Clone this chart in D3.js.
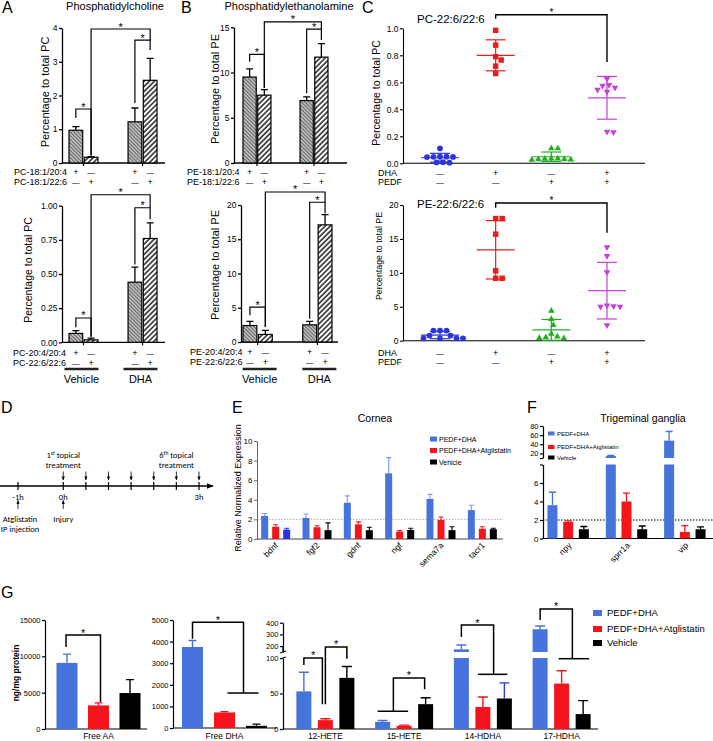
<!DOCTYPE html>
<html><head><meta charset="utf-8">
<script src="https://cdn.jsdelivr.net/npm/d3@7/dist/d3.min.js"></script>
<style>html,body{margin:0;padding:0;background:#fff;}svg{display:block;}</style>
</head><body><div id="chart"></div>
<script>
// ================= DATA =================
const pairGroups = ["Vehicle", "DHA"];
const pairSeries = ["first", "second"];
const rowSigns1 = ["+", "—", "+", "—"];
const rowSigns2 = ["—", "+", "—", "+"];

const pcTopRows = ["PC-18:1/20:4", "PC-18:1/22:6"];
const pcTopMean = [0.97, 0.17, 1.22, 2.45];
const pcTopErr  = [1.08, 0.19, 1.63, 3.10];
const pcTopTicks = [0, 1, 2, 3, 4];

const pcBotRows = ["PC-20:4/20:4", "PC-22:6/22:6"];
const pcBotMean = [0.065, 0.018, 0.44, 0.76];
const pcBotErr  = [0.085, 0.03, 0.55, 0.875];
const pcBotTicks = [0, 0.25, 0.5, 0.75, 1.0];

const peTopRows = ["PE-18:1/20:4", "PE-18:1/22:6"];
const peTopMean = [9.5, 7.5, 6.9, 11.7];
const peTopErr  = [10.4, 8.1, 7.3, 13.2];
const peTopTicks = [0, 5, 10, 15];

const peBotRows = ["PE-20:4/20:4", "PE-22:6/22:6"];
const peBotMean = [2.4, 1.1, 2.5, 17.1];
const peBotErr  = [3.0, 1.7, 3.0, 18.6];
const peBotTicks = [0, 5, 10, 15, 20];

const cGroups = ["Vehicle", "DHA", "PEDF", "PEDF+DHA"];
const cDHASigns  = ["—", "+", "—", "+"];
const cPEDFSigns = ["—", "—", "+", "+"];
const cPCVeh  = [0.11, 0.05, 0.049, 0.048, 0.047, 0.046, 0.008, 0.006, 0.005];
const cPCDHA  = [0.985, 0.875, 0.79, 0.765, 0.72, 0.665];
const cPCPEDF = [0.11, 0.11, 0.035, 0.035, 0.033, 0.032, 0.03, 0.028, 0.025];
const cPCBoth = [0.625, 0.58, 0.575, 0.56, 0.545, 0.53, 0.235, 0.23];
const cPCTicks = [0, 0.2, 0.4, 0.6, 0.8, 1.0];
const cPEVeh  = [1.5, 1.5, 1.5, 0.75, 0.75, 0.35, 0.35, 0.35, 0.35];
const cPEDHA  = [18.0, 18.0, 15.7, 10.3, 9.2, 9.2];
const cPEPEDF = [4.4, 3.2, 2.3, 1.0, 0.6, 0.4, 0.35, 0.5];
const cPEBoth = [13.8, 12.5, 10.1, 5.2, 5.0, 5.0, 5.1, 2.3];
const cPETicks = [0, 5, 10, 15, 20];

const dHours = [-1, 0, 0.5, 1, 1.5, 2, 2.5, 3];
const dTreatHours = [0, 0.5, 1, 1.5, 2, 2.5, 3];
const dLabelHours = [-1, 0, 3];
const dLabelText = ["-1h", "0h", "3h"];

const seriesNames = ["PEDF+DHA", "PEDF+DHA+Atglistatin", "Vehicle"];

const eGenes = ["bdnf", "fgf2", "gdnf", "ngf", "sema7a", "tacr1"];
const eBlue = [2.35, 2.15, 3.7, 6.7, 4.1, 2.95];
const eBlueErr = [2.6, 2.55, 4.4, 8.3, 4.55, 3.45];
const eRed = [1.25, 1.2, 1.5, 0.75, 1.95, 1.05];
const eRedErr = [1.45, 1.35, 1.75, 0.85, 2.25, 1.25];
const eBlack = [0.95, 0.9, 0.9, 0.92, 0.9, 1.0];
const eBlackErr = [1.1, 1.65, 1.2, 1.1, 1.25, 1.1];
const eTicks = [0, 2, 4, 6, 8, 10];

const fGenes = ["npy", "sprr1a", "vip"];
const fBlue = [3.6, 14.5, 48];
const fBlueErr = [5.0, 15.5, 68];
const fRed = [1.8, 4.0, 0.7];
const fRedErr = [1.9, 4.9, 1.4];
const fBlack = [1.0, 1.0, 1.0];
const fBlackErr = [1.3, 1.35, 1.25];
const fLowTicks = [0, 2, 4, 6, 8];
const fHighTicks = [10, 20, 40, 60, 80];

const gAA = [9100, 3250, 4950];
const gAAErr = [10300, 3600, 6800];
const gAATicks = [0, 5000, 10000, 15000];
const gDHA = [3750, 720, 100];
const gDHAErr = [4050, 760, 180];
const gDHATicks = [0, 1000, 2000, 3000, 4000, 5000];
const gLipids = ["12-HETE", "15-HETE", "14-HDHA", "17-HDHA"];
const gBlue = [53, 10, 173, 344];
const gBlueErr = [80, 12, 210, 372];
const gRed = [12.5, 4.5, 31, 64];
const gRedErr = [14.5, 5.5, 45, 82];
const gBlack = [72, 35, 43, 21];
const gBlackErr = [88, 44, 65, 40];
const gLowTicks = [0, 50, 100];
const gHighTicks = [200, 300, 400];

// ================= SETUP =================
const FONT = "'Liberation Sans', Arial, Helvetica, sans-serif";
const DFONT = "Carlito, Lato, 'Open Sans', sans-serif";
const BLUE = "#4673dc", RED = "#f5141c", BLACK = "#000";

const svg = d3.select("#chart").append("svg")
  .attr("width", 713).attr("height", 741).attr("font-family", FONT);
svg.append("rect").attr("width", 713).attr("height", 741).attr("fill", "#fff");
const defs = svg.append("defs");
const pA = defs.append("pattern").attr("id", "hatchA").attr("patternUnits", "userSpaceOnUse")
  .attr("width", 2.6).attr("height", 2.6).attr("patternTransform", "rotate(-45)");
pA.append("rect").attr("width", 2.6).attr("height", 2.6).attr("fill", "#c8c8c8");
pA.append("line").attr("x1", 0.6).attr("x2", 0.6).attr("y1", 0).attr("y2", 2.6).attr("stroke", "#4a4a4a").attr("stroke-width", 0.9);
const pB = defs.append("pattern").attr("id", "hatchB").attr("patternUnits", "userSpaceOnUse")
  .attr("width", 3.6).attr("height", 3.6).attr("patternTransform", "rotate(45)");
pB.append("rect").attr("width", 3.6).attr("height", 3.6).attr("fill", "#fff");
pB.append("line").attr("x1", 1).attr("x2", 1).attr("y1", 0).attr("y2", 3.6).attr("stroke", "#111").attr("stroke-width", 1.4);
defs.append("marker").attr("id", "arr").attr("viewBox", "0 0 10 10").attr("refX", 9).attr("refY", 5)
  .attr("markerWidth", 5).attr("markerHeight", 5).attr("orient", "auto")
  .append("path").attr("d", "M0,1L10,5L0,9z").attr("fill", "#000");

function txt(g, x, y, s, fs, anchor, opts) {
  const t = g.append("text").attr("x", x).attr("y", y).attr("font-size", fs)
    .attr("text-anchor", anchor || "start").attr("fill", "#000").text(s);
  if (opts) for (const k in opts) t.attr(k, opts[k]);
  return t;
}
function vlabel(g, x, y, s, fs, weight) {
  return g.append("text").attr("transform", `translate(${x},${y}) rotate(-90)`)
    .attr("text-anchor", "middle").attr("font-size", fs).attr("font-weight", weight || "normal").text(s);
}
function yAxis(g, x, scale, ticks, fmt, fs, opts) {
  opts = opts || {};
  const a = d3.axisLeft(scale).tickValues(ticks).tickFormat(fmt)
    .tickSize(opts.ts == null ? 3 : opts.ts).tickSizeOuter(0).tickPadding(opts.pad == null ? 1.5 : opts.pad);
  const s = g.append("g").attr("transform", `translate(${x},0)`).call(a);
  s.attr("font-family", FONT).attr("font-size", fs);
  s.selectAll("text").attr("fill", "#000");
  s.selectAll("path,line").attr("stroke", opts.color || "#000").attr("stroke-width", opts.sw || 1.2);
  return s;
}
function hline(g, x1, x2, y, sw, col) {
  return g.append("line").attr("x1", x1).attr("x2", x2).attr("y1", y).attr("y2", y)
    .attr("stroke", col || "#000").attr("stroke-width", sw || 1.2);
}
function star(g, x, y, fs) { return txt(g, x, y, "*", fs || 11, "middle"); }

[["A", 2, 13], ["B", 181, 13], ["C", 362, 13], ["D", 1, 413], ["E", 232, 413], ["F", 527, 413], ["G", 1, 598]]
  .forEach(([s, x, y]) => txt(svg, x, y, s, 16));

// ================= A / B =================
function pairPanel(o) {
  const g = svg.append("g");
  const y = d3.scaleLinear().domain([0, o.max]).range([o.y0, o.y1]);
  const gx = d3.scaleBand().domain(pairGroups).range([o.bx0, o.bx1]).paddingInner(0.51);
  const ix = d3.scaleBand().domain(pairSeries).range([0, gx.bandwidth()]).paddingInner(0.1);
  const bars = o.mean.map((v, i) => ({ v, e: o.err[i], grp: pairGroups[i >> 1], ser: pairSeries[i & 1] }));
  const bx = d => gx(d.grp) + ix(d.ser);
  const cx = i => bx(bars[i]) + ix.bandwidth() / 2;
  yAxis(g, o.ax, y, o.ticks, o.fmt, 8.5, { sw: 1.3 });
  hline(g, o.ax, o.axEnd, y(0), 1.3);
  g.selectAll(null).data(pairGroups).join("line")
    .attr("x1", d => gx(d) + gx.bandwidth() / 2).attr("x2", d => gx(d) + gx.bandwidth() / 2)
    .attr("y1", y(0)).attr("y2", y(0) + 3).attr("stroke", "#000").attr("stroke-width", 1.2);
  g.selectAll(null).data(bars).join("rect")
    .attr("x", bx).attr("width", ix.bandwidth())
    .attr("y", d => y(d.v)).attr("height", d => y(0) - y(d.v))
    .attr("fill", d => d.ser === "first" ? "url(#hatchA)" : "url(#hatchB)")
    .attr("stroke", "#000").attr("stroke-width", 1.2);
  g.selectAll(null).data(bars).join("path")
    .attr("d", d => { const c = bx(d) + ix.bandwidth() / 2; return `M${c},${y(d.v)}V${y(d.e)}M${c - 3.5},${y(d.e)}H${c + 3.5}`; })
    .attr("stroke", "#000").attr("stroke-width", 1.3).attr("fill", "none");
  o.brackets.forEach(([a, b, h, ha, hb]) => {
    g.append("path").attr("d", `M${cx(a)},${y(ha)}V${y(h)}H${cx(b)}V${y(hb)}`)
      .attr("fill", "none").attr("stroke", "#000").attr("stroke-width", 1.2);
    star(g, (cx(a) + cx(b)) / 2, y(h) + 1.5, 11);
  });
  txt(g, o.rowX, o.rowY[0], o.rows[0], 9);
  txt(g, o.rowX, o.rowY[1], o.rows[1], 9);
  rowSigns1.forEach((s, i) => txt(g, cx(i), o.rowY[0], s, s === "+" ? 9 : 7.5, "middle"));
  rowSigns2.forEach((s, i) => txt(g, cx(i), o.rowY[1], s, s === "+" ? 9 : 7.5, "middle"));
  vlabel(g, o.ylx, o.yly, o.ylabel, o.ylfs || 11);
  if (o.title) txt(g, o.title[1], o.title[2], o.title[0], 11, "middle");
  return gx;
}

pairPanel({ ax: 62, axEnd: 165, y0: 163, y1: 28, max: 4, ticks: pcTopTicks, fmt: d3.format("d"),
  bx0: 69, bx1: 157, mean: pcTopMean, err: pcTopErr, rows: pcTopRows, rowX: 14, rowY: [175, 185],
  ylabel: "Percentage to total PC", ylx: 48.5, yly: 92, title: ["Phosphatidylcholine", 115, 9.5],
  brackets: [[0, 1, 1.6, 1.33, 0.22], [1, 3, 3.97, 0.22, 3.64], [2, 3, 3.64, 1.78, 3.35]] });
const gxA = pairPanel({ ax: 62, axEnd: 165, y0: 342.3, y1: 205.7, max: 1, ticks: pcBotTicks, fmt: d3.format(".2f"),
  bx0: 69, bx1: 157, mean: pcBotMean, err: pcBotErr, rows: pcBotRows, rowX: 13, rowY: [356, 365.5],
  ylabel: "Percentage to total PC", ylx: 32, yly: 270, ylfs: 10.5,
  brackets: [[0, 1, 0.178, 0.11, 0.04], [1, 3, 1.08, 0.04, 0.985], [2, 3, 0.985, 0.57, 0.9]] });
pairPanel({ ax: 234, axEnd: 347, y0: 163, y1: 27.3, max: 15, ticks: peTopTicks, fmt: d3.format("d"),
  bx0: 243, bx1: 328, mean: peTopMean, err: peTopErr, rows: peTopRows, rowX: 187, rowY: [175, 185],
  ylabel: "Percentage to total PE", ylx: 219, yly: 89, title: ["Phosphatidylethanolamine", 289, 9.5],
  brackets: [[0, 1, 12.0, 11.2, 8.3], [1, 3, 15.6, 8.3, 14.8], [2, 3, 14.8, 7.7, 13.6]] });
const gxB = pairPanel({ ax: 241, axEnd: 338, y0: 342, y1: 205, max: 20, ticks: peBotTicks, fmt: d3.format("d"),
  bx0: 243, bx1: 332, mean: peBotMean, err: peBotErr, rows: peBotRows, rowX: 190, rowY: [355, 364.5],
  ylabel: "Percentage to total PE", ylx: 219, yly: 265,
  brackets: [[0, 1, 5.1, 3.9, 2.2], [1, 3, 21.9, 2.2, 20.4], [2, 3, 20.4, 3.4, 18.8]] });

[[gxA, -2], [gxB, 2]].forEach(([gx, dx]) => {
  pairGroups.forEach(grp => {
    const c = gx(grp) + gx.bandwidth() / 2 + dx;
    hline(svg, c - 17, c + 17, 369, 2.5, "#222");
    txt(svg, c, 383, grp, 11, "middle");
  });
});

// ================= C =================
function swarm(ys, d) {
  const idx = d3.range(ys.length).sort((a, b) => ys[a] - ys[b]);
  const xs = new Array(ys.length), placed = [];
  idx.forEach(i => {
    for (let k = 0; k < 400; k++) {
      const off = k === 0 ? 0 : (k % 2 ? 1 : -1) * Math.ceil(k / 2) * 0.5;
      if (placed.every(j => (off - xs[j]) ** 2 + (ys[i] - ys[j]) ** 2 >= d * d)) { xs[i] = off; break; }
    }
    placed.push(i);
  });
  return xs;
}
const cColors = ["#2b35dc", "#ec1c1c", "#1fb01f", "#c542d8"];
const cSymbols = [d3.symbolCircle, d3.symbolSquare, d3.symbolTriangle, d3.symbolTriangle];
const cSizes = [26, 30, 19, 19];

function scatterPanel(o) {
  const g = svg.append("g");
  const y = d3.scaleLinear().domain([0, o.max]).range([o.y0, o.y1]);
  const x = d3.scalePoint().domain(cGroups).range([440, 607]);
  yAxis(g, 403, y, o.ticks, o.fmt, 8.5, { sw: 1.1 });
  hline(g, 403, 645, y(0), 1.1);
  o.sets.forEach((vals, gi) => {
    const col = cColors[gi], cxg = x(cGroups[gi]);
    const ys = vals.map(v => y(v));
    const xs = swarm(ys, 6.3);
    g.selectAll(null).data(vals).join("path")
      .attr("d", d3.symbol(cSymbols[gi], cSizes[gi]))
      .attr("transform", (d, i) => `translate(${cxg + xs[i]},${ys[i]})${gi === 3 ? " rotate(180)" : ""}`)
      .attr("fill", col);
    const m = d3.mean(vals), sd = d3.deviation(vals);
    hline(g, cxg - 19, cxg + 19, y(m), 1.2, col);
    hline(g, cxg - 10, cxg + 10, y(m + sd), 1.2, col);
    hline(g, cxg - 10, cxg + 10, y(Math.max(0, m - sd)), 1.2, col);
    g.append("line").attr("x1", cxg).attr("x2", cxg).attr("y1", y(m + sd)).attr("y2", y(Math.max(0, m - sd)))
      .attr("stroke", col).attr("stroke-width", 1.2);
  });
  const [bl, bt, br] = o.bracket;
  g.append("path").attr("d", `M${x(cGroups[1])},${y(bl)}V${y(bt)}H${x(cGroups[3])}V${y(br)}`)
    .attr("fill", "none").attr("stroke", "#000").attr("stroke-width", 1.4);
  star(g, (x(cGroups[1]) + x(cGroups[3])) / 2, y(bt) + 1.2, 10);
  txt(g, 417, o.titleY, o.title, 11.5);
  vlabel(g, o.ylx, o.yly, o.ylabel, o.ylfs);
  txt(g, 378, o.rowY[0], "DHA", 9);
  txt(g, 378, o.rowY[1], "PEDF", 9);
  cDHASigns.forEach((s, i) => txt(g, x(cGroups[i]), o.rowY[0], s, s === "+" ? 9 : 7.5, "middle"));
  cPEDFSigns.forEach((s, i) => txt(g, x(cGroups[i]), o.rowY[1], s, s === "+" ? 9 : 7.5, "middle"));
}
scatterPanel({ y0: 163.3, y1: 28.3, max: 1, ticks: cPCTicks, fmt: d3.format(".1f"),
  sets: [cPCVeh, cPCDHA, cPCPEDF, cPCBoth], bracket: [1.07, 1.10, 0.75],
  title: "PC-22:6/22:6", titleY: 23, ylabel: "Percentage to total PC", ylx: 380, yly: 93, ylfs: 10.5, rowY: [175.5, 184.5] });
scatterPanel({ y0: 340.7, y1: 205, max: 20, ticks: cPETicks, fmt: d3.format("d"),
  sets: [cPEVeh, cPEDHA, cPEPEDF, cPEBoth], bracket: [19.6, 20.3, 15.9],
  title: "PE-22:6/22:6", titleY: 208, ylabel: "Percentage to total PE", ylx: 382, yly: 256, ylfs: 8.8, rowY: [355.5, 365] });

// ================= D =================
(function () {
  const g = svg.append("g").attr("font-family", DFONT);
  const xD = d3.scaleLinear().domain([-1, 3]).range([18, 199]);
  g.append("line").attr("x1", 0).attr("x2", 213).attr("y1", 486).attr("y2", 486)
    .attr("stroke", "#000").attr("stroke-width", 1.4).attr("marker-end", "url(#arr)");
  g.selectAll(null).data(dHours).join("line")
    .attr("x1", d => xD(d)).attr("x2", d => xD(d)).attr("y1", 482).attr("y2", 490)
    .attr("stroke", "#000").attr("stroke-width", 1.2);
  g.selectAll(null).data(dLabelHours).join("text")
    .attr("x", d => xD(d)).attr("y", 500).attr("text-anchor", "middle").attr("font-size", 8.5)
    .text((d, i) => dLabelText[i]);
  g.selectAll(null).data(dTreatHours).join("line")
    .attr("x1", d => xD(d)).attr("x2", d => xD(d)).attr("y1", 471.5).attr("y2", 480)
    .attr("stroke", "#000").attr("stroke-width", 0.8).attr("marker-end", "url(#arr)");
  g.selectAll(null).data(dLabelHours.slice(0, 2)).join("line")
    .attr("x1", d => xD(d)).attr("x2", d => xD(d)).attr("y1", 509).attr("y2", 500.5)
    .attr("stroke", "#000").attr("stroke-width", 0.8).attr("marker-end", "url(#arr)");
  function sup(x, y, a, b, c) {
    const t = g.append("text").attr("x", x).attr("y", y).attr("text-anchor", "middle").attr("font-size", 8.5);
    t.append("tspan").text(a);
    t.append("tspan").attr("dy", -3).attr("font-size", 5.5).text(b);
    t.append("tspan").attr("dy", 3).text(c);
  }
  sup(xD(0), 458, "1", "st", "  topical");
  sup(xD(2.5), 458, "6", "th", " topical");
  txt(g, xD(0), 468, "treatment", 8.5, "middle");
  txt(g, xD(2.5), 468, "treatment", 8.5, "middle");
  txt(g, xD(-1) + 2, 522, "Atglistatin", 8.5, "middle");
  txt(g, xD(-1) + 2, 532, "IP injection", 8.5, "middle");
  txt(g, xD(0), 522, "Injury", 8.5, "middle");
})();

// ================= grouped bar helper =================
function groupedBars(g, o) {
  const rows = o.cats.flatMap((c, ci) => o.series.map((se, si) => ({ c, ci, si, v: se.vals[ci], e: se.errs[ci] })));
  const cxOf = d => o.xc(d.c) + o.off(seriesNames[d.si]);
  o.segs.forEach(sg => {
    g.selectAll(null).data(rows.filter(d => d.v > sg.lo)).join("rect")
      .attr("x", d => cxOf(d) - o.w / 2).attr("width", o.w)
      .attr("y", d => sg.s(Math.min(d.v, sg.hi))).attr("height", d => sg.s(sg.lo) - sg.s(Math.min(d.v, sg.hi)))
      .attr("fill", d => o.series[d.si].fill(d.ci));
  });
  g.selectAll(null).data(rows).join("path")
    .attr("d", d => { const c = cxOf(d), t = o.pos(d.e); return `M${c},${o.pos(d.v)}V${t}M${c - o.cap},${t}H${c + o.cap}`; })
    .attr("fill", "none").attr("stroke", d => o.series[d.si].err(d.ci)).attr("stroke-width", o.esw || 1.3);
}
function legend(g, x, ys, rw, rh, fs, tx) {
  const cols = [BLUE, RED, BLACK];
  g.selectAll(null).data(seriesNames).join("rect")
    .attr("x", x).attr("y", (d, i) => ys[i]).attr("width", rw).attr("height", rh).attr("fill", (d, i) => cols[i]);
  g.selectAll(null).data(seriesNames).join("text")
    .attr("x", tx).attr("y", (d, i) => ys[i] + rh / 2 + fs * 0.36).attr("font-size", fs).text(d => d);
}

// ================= E =================
(function () {
  const g = svg.append("g");
  const y = d3.scaleLinear().domain([0, 10]).range([539, 441]);
  const xb = d3.scaleBand().domain(eGenes).range([255, 503]);
  const off = d3.scalePoint().domain(seriesNames).range([-11, 11]);
  hline(g, 257, 503, y(2), 1, "#b0b0b0").attr("stroke-dasharray", "1.5,1.5");
  yAxis(g, 257, y, eTicks, d3.format("d"), 8, { sw: 1, color: "#666" });
  hline(g, 257, 503, y(0), 1, "#444");
  groupedBars(g, {
    cats: eGenes, xc: c => xb(c) + xb.bandwidth() / 2, off: s => off(s), w: 7, cap: 2.5, esw: 1.1,
    segs: [{ s: y, lo: 0, hi: 10 }], pos: y,
    series: [
      { vals: eBlue, errs: eBlueErr, fill: () => BLUE, err: () => "#7d9be6" },
      { vals: eRed, errs: eRedErr, fill: () => RED, err: () => RED },
      { vals: eBlack, errs: eBlackErr, fill: i => i === 0 ? "#2233e8" : BLACK, err: i => i === 0 ? "#2233e8" : BLACK }
    ]
  });
  eGenes.forEach(c => txt(g, 0, 0, c, 8.5, "end", { transform: `translate(${xb(c) + xb.bandwidth() / 2 + 3},546) rotate(-45)` }));
  txt(g, 375, 422, "Cornea", 10.5, "middle");
  vlabel(g, 241, 488, "Relative Normalized Expression", 9);
  legend(g, 430, [436.5, 448, 459.5], 7, 5, 7, 439);
})();

// ================= F =================
(function () {
  const g = svg.append("g");
  const yL = d3.scaleLinear().domain([0, 8]).range([538.5, 464.5]);
  const yH = d3.scaleLinear().domain([10, 80]).range([458, 426]);
  const pos = v => v <= 8 ? yL(v) : (v >= 10 ? yH(v) : yL(8) + (v - 8) / 2 * (yH(10) - yL(8)));
  const xb = d3.scaleBand().domain(fGenes).range([539, 714]);
  const off = d3.scalePoint().domain(seriesNames).range([-15.7, 15.7]);
  hline(g, 543, 713, yL(2), 1, "#000").attr("stroke-dasharray", "1.5,1.5");
  yAxis(g, 543, yL, fLowTicks, v => v === 8 ? "" : v, 8, { sw: 1.2 });
  yAxis(g, 543, yH, fHighTicks, v => v === 10 ? "" : v, 7.5, { sw: 1.2 });
  hline(g, 543, 713, yL(0), 1.2);
  groupedBars(g, {
    cats: fGenes, xc: c => xb(c) + xb.bandwidth() / 2, off: s => off(s), w: 10, cap: 3.5, esw: 1.3,
    segs: [{ s: yL, lo: 0, hi: 8 }, { s: yH, lo: 10, hi: 100 }], pos,
    series: [
      { vals: fBlue, errs: fBlueErr, fill: () => BLUE, err: () => BLUE },
      { vals: fRed, errs: fRedErr, fill: () => RED, err: () => RED },
      { vals: fBlack, errs: fBlackErr, fill: () => BLACK, err: () => BLACK }
    ]
  });
  fGenes.forEach(c => txt(g, 0, 0, c, 8.5, "end", { transform: `translate(${xb(c) + xb.bandwidth() / 2 + 4},546) rotate(-45)` }));
  txt(g, 643, 422, "Trigeminal ganglia", 10.5, "middle");
  legend(g, 548, [431.5, 445, 455.5], 6.5, 4, 6, 557);
})();

// ================= G =================
(function () {
  const g = svg.append("g");
  const ser = (vals, errs, errFn) => [
    { vals: vals[0], errs: errs[0], fill: () => BLUE, err: () => BLUE },
    { vals: vals[1], errs: errs[1], fill: () => RED, err: () => RED },
    { vals: vals[2], errs: errs[2], fill: () => BLACK, err: errFn || (() => BLACK) }
  ];
  const y1 = d3.scaleLinear().domain([0, 15000]).range([729, 620]);
  const p1 = d3.scalePoint().domain(seriesNames).range([67, 130]);
  yAxis(g, 45, y1, gAATicks, d3.format("d"), 7.5, { sw: 1.2 });
  hline(g, 45, 147, y1(0), 1.2);
  groupedBars(g, {
    cats: ["Free AA"], xc: () => 0, off: s => p1(s), w: 21, cap: 4, esw: 1.4,
    segs: [{ s: y1, lo: 0, hi: 15000 }], pos: y1,
    series: ser([[gAA[0]], [gAA[1]], [gAA[2]]], [[gAAErr[0]], [gAAErr[1]], [gAAErr[2]]])
  });
  txt(g, p1(seriesNames[1]), 739, "Free AA", 8.5, "middle");
  {
    const xa = p1(seriesNames[0]) - 1, xb2 = p1(seriesNames[1]) + 2;
    g.append("path").attr("d", `M${xa},${y1(11280)}V${y1(12935)}H${xb2}V${y1(3715)}`)
      .attr("fill", "none").attr("stroke", "#000").attr("stroke-width", 1.5);
    star(g, (xa + xb2) / 2, y1(12935) + 1.5, 11);
  }
  const y2 = d3.scaleLinear().domain([0, 5000]).range([728, 620]);
  const p2 = d3.scalePoint().domain(seriesNames).range([192.5, 256.5]);
  yAxis(g, 173, y2, gDHATicks, d3.format("d"), 7.5, { sw: 1.2 });
  hline(g, 173, 277, y2(0), 1.2);
  groupedBars(g, {
    cats: ["Free DHA"], xc: () => 0, off: s => p2(s), w: 21, cap: 4, esw: 1.4,
    segs: [{ s: y2, lo: 0, hi: 5000 }], pos: y2,
    series: ser([[gDHA[0]], [gDHA[1]], [gDHA[2]]], [[gDHAErr[0]], [gDHAErr[1]], [gDHAErr[2]]])
  });
  txt(g, p2(seriesNames[1]), 739, "Free DHA", 8.5, "middle");
  {
    const xa = p2(seriesNames[0]), xr = (p2(seriesNames[1]) + p2(seriesNames[2])) / 2 + 3;
    g.append("path").attr("d", `M${xa},${y2(4130)}V${y2(4900)}H${xr}V${y2(1620)}`)
      .attr("fill", "none").attr("stroke", "#000").attr("stroke-width", 1.5);
    hline(g, p2(seriesNames[1]) + 3, p2(seriesNames[2]) + 2, y2(1620), 1.5);
    star(g, (xa + xr) / 2, y2(4900) + 1.5, 11);
  }
  const yL = d3.scaleLinear().domain([0, 100]).range([729, 658]);
  const yH = d3.scaleLinear().domain([150, 400]).range([652, 622.7]);
  const pos = v => v <= 100 ? yL(v) : (v >= 150 ? yH(v) : yL(100) + (v - 100) / 50 * (yH(150) - yL(100)));
  yAxis(g, 283, yL, gLowTicks, d3.format("d"), 7.5, { sw: 1.2 });
  yAxis(g, 283, yH, gHighTicks, d3.format("d"), 7.5, { sw: 1.2 });
  g.append("line").attr("x1", 283).attr("x2", 283).attr("y1", yH(150)).attr("y2", yH(200)).attr("stroke", "#000").attr("stroke-width", 1.2);
  g.append("path").attr("d", `M280,${yH(150) + 1}L286,${yH(150) - 1}M280,${yL(100) + 1}L286,${yL(100) - 1}`)
    .attr("stroke", "#000").attr("stroke-width", 1);
  hline(g, 283, 598, yL(0), 1.2);
  const xb = d3.scaleBand().domain(gLipids).range([286, 601]);
  const off = d3.scalePoint().domain(seriesNames).range([-21.5, 21.5]);
  const xc = c => xb(c) + xb.bandwidth() / 2;
  groupedBars(g, {
    cats: gLipids, xc, off: s => off(s), w: 15, cap: 5, esw: 1.4,
    segs: [{ s: yL, lo: 0, hi: 100 }, { s: yH, lo: 150, hi: 1000 }], pos,
    series: ser([gBlue, gRed, gBlack], [gBlueErr, gRedErr, gBlackErr], i => i === 2 ? "#2a3ee0" : BLACK)
  });
  gLipids.forEach(c => txt(g, xc(c), 739, c, 8.5, "middle"));
  const X = (c, s) => xc(gLipids[c]) + off(seriesNames[s]);
  const brk = (x1, y1v, ytv, x2, y2v) => {
    g.append("path").attr("d", `M${x1},${pos(y1v)}V${pos(ytv)}H${x2}V${pos(y2v)}`)
      .attr("fill", "none").attr("stroke", "#000").attr("stroke-width", 1.5);
    star(g, (x1 + x2) / 2, pos(ytv) + 1.5, 11);
  };
  brk(X(0, 0), 90, 101, X(0, 1) - 3, 35);
  brk(X(0, 1), 35, 193, X(0, 2), 99);
  hline(g, X(1, 0) - 5, X(1, 1) + 4, pos(25), 1.5);
  brk((X(1, 0) + X(1, 1)) / 2, 25, 72, X(1, 2) - 1, 56);
  hline(g, X(2, 1) - 5, X(2, 2) + 3, pos(77), 1.5);
  brk(X(2, 0), 278, 380, (X(2, 1) + X(2, 2)) / 2, 77);
  hline(g, X(3, 1) - 3, X(3, 2) + 6, pos(99), 1.5);
  brk(X(3, 0), 423, 517, (X(3, 1) + X(3, 2)) / 2, 99);

  vlabel(g, 19, 673, "ng/mg protein", 8.5, "bold");
  legend(g, 593, [610, 626, 640], 9, 6, 9.5, 607);
})();
</script></body></html>
